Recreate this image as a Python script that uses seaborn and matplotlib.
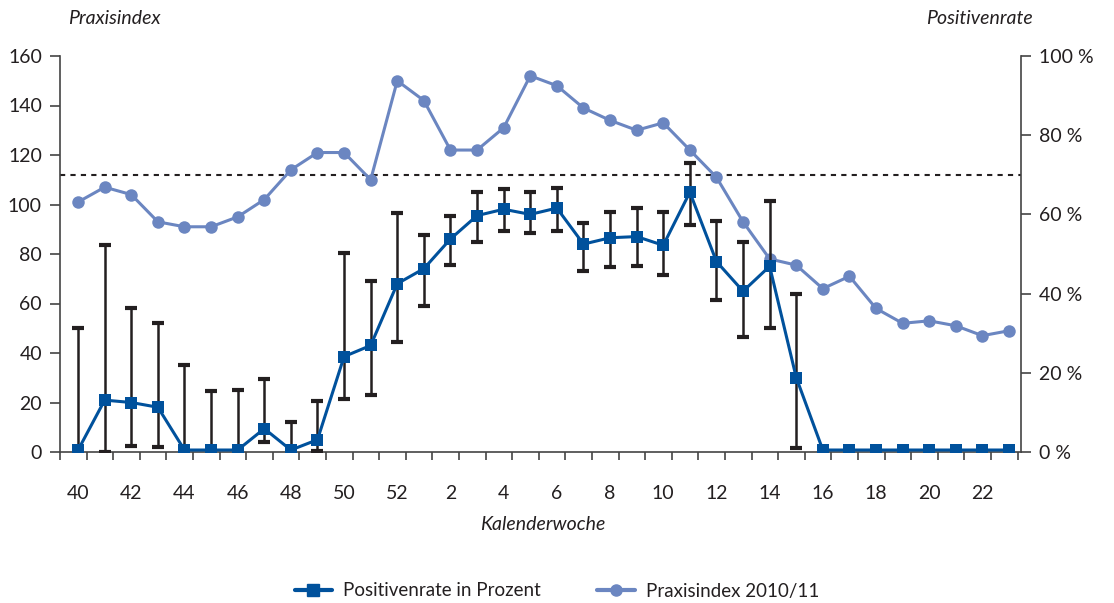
import numpy as np
import pandas as pd
import matplotlib
matplotlib.use("Agg")
import matplotlib.pyplot as plt
import seaborn as sns
from matplotlib.lines import Line2D

weeks = [40, 41, 42, 43, 44, 45, 46, 47, 48, 49, 50, 51, 52,
         1, 2, 3, 4, 5, 6, 7, 8, 9, 10, 11, 12, 13, 14, 15, 16,
         17, 18, 19, 20, 21, 22, 23]

praxisindex = [101, 107, 104, 93, 91, 91, 95, 102, 114, 121, 121, 110, 150,
               142, 122, 122, 131, 152, 148, 139, 134, 130, 133, 122, 111,
               93, 78, 75.5, 66, 71, 58, 52, 53, 51, 47, 49]

positivenrate = [0.5, 13.1, 12.5, 11.3, 0.5, 0.5, 0.5, 5.9, 0.5, 3.1, 24.1, 26.9, 42.5,
                 46.3, 53.8, 59.7, 61.3, 60.0, 61.6, 52.5, 54.1, 54.4, 52.2, 65.6, 48.1,
                 40.6, 46.9, 18.8, 0.5, 0.5, 0.5, 0.5, 0.5, 0.5, 0.5, 0.5]

ci_low = [0, 0, 1.6, 1.3, 0, 0, 0, 2.5, 0, 0.3, 13.4, 14.4, 27.8,
          36.9, 47.2, 53.1, 55.9, 55.3, 55.9, 45.6, 46.6, 46.9, 44.7, 57.2, 38.4,
          29.1, 31.3, 0.9, None, None, None, None, None, None, None, None]
ci_high = [31.3, 52.2, 36.3, 32.5, 21.9, 15.3, 15.6, 18.4, 7.5, 12.8, 50.3, 43.1, 60.3,
           54.7, 59.7, 65.6, 66.3, 65.6, 66.6, 57.8, 60.6, 61.6, 60.6, 73.1, 58.4,
           53.1, 63.4, 40.0, None, None, None, None, None, None, None, None]

threshold_pct = 70

left_ticks = [0, 20, 40, 60, 80, 100, 120, 140, 160]
right_ticks = [0, 20, 40, 60, 80, 100]
right_labels = ["0 %", "20 %", "40 %", "60 %", "80 %", "100 %"]

dark = "#00519c"
light = "#6b86c1"
txt = "#231f20"
axc = "#444444"

sns.set_theme(style="white")
plt.rcParams['font.family'] = ['Lato', 'DejaVu Sans']
plt.rcParams['text.color'] = txt

fig = plt.figure(figsize=(11.14, 6.03), dpi=100)
ax = fig.add_axes([60/1114, 1-452/603, (1021-60)/1114, (452-56)/603])
ax2 = ax.twinx()

n = len(weeks)
idx = np.arange(n)
df = pd.DataFrame({"i": idx, "praxis": praxisindex, "pos": positivenrate})

ax.axhline(threshold_pct * 160 / 100, color=txt, lw=1.5, ls=(0, (2.5, 2.5)), zorder=1)

sns.lineplot(data=df, x="i", y="praxis", ax=ax, color=light, marker="o",
             markersize=9, markeredgewidth=0, linewidth=2.2, zorder=3)

ei = [i for i in idx if ci_low[i] is not None]
y = np.array([positivenrate[i] for i in ei])
lo = np.array([ci_low[i] for i in ei])
hi = np.array([ci_high[i] for i in ei])
ax2.errorbar(ei, y, yerr=[y - lo, hi - y], fmt="none", ecolor=txt,
             elinewidth=1.8, capsize=4.5, capthick=3, zorder=2)
sns.lineplot(data=df, x="i", y="pos", ax=ax2, color=dark, marker="s",
             markersize=8.5, markeredgewidth=0, linewidth=2.2, zorder=4)

x0 = -0.68
ax.set_xlim(x0, n - 0.55)
ax.set_ylim(0, 160)
ax2.set_ylim(0, 100)
ax.set_yticks(left_ticks)
ax.set_yticklabels([str(t) for t in left_ticks])
ax2.set_yticks(right_ticks)
ax2.set_yticklabels(right_labels)

major = idx[::2]
ax.set_xticks(major)
ax.set_xticklabels([str(weeks[i]) for i in major])
ax.set_xticks(np.arange(x0, n, 1.0), minor=True)
ax.tick_params(axis="x", which="major", length=0, pad=24, labelsize=14, colors=txt)
ax.tick_params(axis="x", which="minor", length=6, width=1.2, color=axc, direction="out", bottom=True)
ax.tick_params(axis="y", length=7, width=1.2, color=axc, direction="out", left=True,
               labelsize=14, colors=txt, pad=6)
ax2.tick_params(axis="y", length=7, width=1.2, color=axc, direction="out", right=True,
                labelsize=14, colors=txt, pad=6)
for a in (ax, ax2):
    a.set_xlabel("")
    a.set_ylabel("")
    a.spines["top"].set_visible(False)
    for s in ("left", "right", "bottom"):
        a.spines[s].set_color(axc)
        a.spines[s].set_linewidth(1.2)
ax.spines["right"].set_visible(False)
ax2.spines["left"].set_visible(False)
ax2.spines["bottom"].set_visible(False)
ax.grid(False)
ax2.grid(False)

fig.text(68/1114, 1-18/603, "Praxisindex", style="italic", fontsize=14, color=txt, va="center", ha="left")
fig.text(1033/1114, 1-18/603, "Positivenrate", style="italic", fontsize=14, color=txt, va="center", ha="right")
fig.text(543/1114, 1-524/603, "Kalenderwoche", style="italic", fontsize=14, color=txt, va="center", ha="center")

handles = [Line2D([], [], color=dark, marker="s", markersize=8, lw=3),
           Line2D([], [], color=light, marker="o", markersize=8, lw=3)]
fig.legend(handles, ["Positivenrate in Prozent", "Praxisindex 2010/11"],
           loc="center", bbox_to_anchor=(0.5, 1-591/603), ncol=2, frameon=False,
           fontsize=13.5, handlelength=2.0, columnspacing=3, handletextpad=0.6)

fig.savefig("out.png", dpi=100)
